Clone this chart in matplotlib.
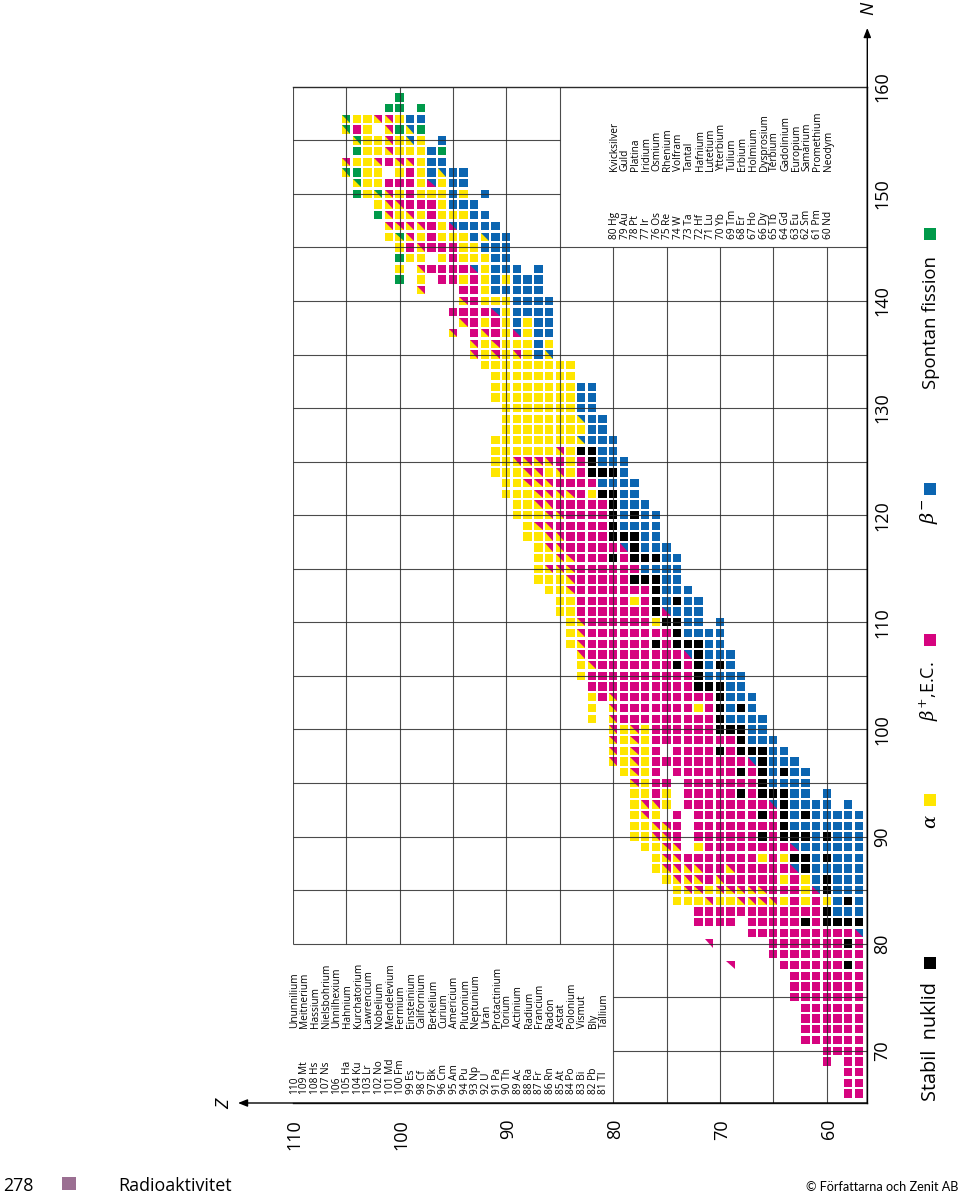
import matplotlib
matplotlib.use("Agg")
import matplotlib.pyplot as plt
from matplotlib.patches import Rectangle, Polygon
from matplotlib.transforms import ScaledTranslation

plt.rcParams['font.family'] = ['Open Sans', 'DejaVu Sans']

# ---------- data ----------
N_values = list(range(66, 160))
first_Z = [57, 57, 57, 57, 57, 57, 57, 57, 57, 57, 57, 57, 57, 57, 57, 57, 57, 57, 57, 57, 57, 57, 57, 57,
           57, 57, 57, 57, 60, 62, 62, 63, 64, 65, 66, 66, 67, 67, 68, 68, 69, 69, 70, 70, 70, 72, 72, 73,
           74, 74, 74, 75, 76, 76, 76, 77, 78, 78, 79, 79, 80, 80, 81, 81, 82, 82, 82, 84, 84, 86, 86, 86,
           86, 86, 86, 87, 87, 87, 90, 90, 90, 91, 92, 93, 92, 94, 94, 96, 96, 96, 98, 98, 98, 100]
# codes: m b+/EC, y alpha, b b-, k stable, g fission, . none
# Y alpha/b+, B b+/b-, V alpha/b-, G alpha/fission, t b+ corner only
decay_rows = [
    "mm", "mm", "mm", "mm.m", "mmmm", "mmmmmm", "mmmmmm", "mmmmmm", "mmmmmm",
    "mmmmmmm", "mmmmmmm", "mmmmmmm", "mkmmmmmm....t", "mmmmmmmmm", "mkmmmmmmm.....t",
    "Bmmmmmmmmmm", "kkkkmkmmmmm.mmmm", "bbbkmmmmmmmmmmmm", "bkbymymyYYYYyyYyyy",
    "bbbkBymmmYYYYYyYYy", "bbbkbymymmmmmYmYYYy", "bbbbbkBmmmmmYmmYYYYy", "bbbkbkkymymmmmmmmYYy",
    "bbbbbbBmmmmmmmmy.YYyy", "bbbkbkkkmkmmmmmm.mYYyy", "bbbbbbbkmmmmmmmm.mYYyy",
    "bbbbbkbkmkmmmmmm.m.yYy", ".b.bbbbkBmmmmmmmm.yYYy", "b.bbkkkmkmmmmm.ymyy",
    "bbbbkmmmmmmm.mmyY", "bbkbkmkmmmmmm.myYy", "bbbkBmmmmmmmmmyYyY", "bbkkkmkmmmm.myYyY",
    "bbbkmmmmmmmmyYyY", "bbkkkmmmmmmyYyY", "bbbbkmmmmmmmmmY.y", "bkbkmymmmmmmmY.y",
    "bbbkmmmmmmmmmYmy", "bbkkkmmmmmmmmmm", "bbbbkmmmmmmmmmmy", "bkbkmkmmmmmmmYy",
    "bbbkBmmmmmmmmmY", "bbkkkmkmmmmmmYy", "bbbbkmmmmmmmmYy", "b.bbkkymmmmmmYy",
    "bbbBkmmmmmmmyy", "bbkbkmymmmmmyy", "bbbkmmmmmmmYyy", "bbkkkmmmmmYyyy",
    "bbbbmmmmmmYYYy", "bbkkkmkmmmYYyy", "bbbkBmmmmmYYy", "bbkkkmmmmYYyy",
    "bbbbkmmmmmYYy", "bbkbkmmmmYYyyy", "bbbkmmmmmYYyy", "bbkkymYYYYyyy",
    "bbbbmmmmYYYyy", "bkkkmyYyYYyyy", "bbbkmymYYYYyy", "bbkkyYyyyyyy", "bbbVyyyyyyyy",
    "bbyyyyyyyy", "bbVyyyyyyy", "bbyyyyyyy", "bbyyyyyyyy", "bbyyyyyyyy", "yyyyyyyy",
    "yyyyyyyyy", "VbyYyYyY", "ybyyyYyY", "bbyBymYm.Y", "bbybymymY", "bbbbyBmmmm",
    "bbbbyyymY", "bbbbbymm...Y", "bbbybymymm.y.g", "b.bbbyBmmmmY.y", "bbyyymy.yyg",
    "bbbyymmmYmy", "bbVbyyymyYGy", "bbbbBymYYYY", "bbyyymyYyYg", "bbbymmmYYy",
    "b.ybyyymyYGyg", "bbyBymmmyyG", "bbVbymy.yygG", "bbyYYmYyyY", "gbyyyYyyg",
    "b.yVyYyyG", "gVgY.ymG", "bbyYYyyG", "g.gg", "g",
]
Z_ticks = [110, 100, 90, 80, 70, 60]
N_ticks = [70, 80, 90, 100, 110, 120, 130, 140, 150, 160]

upper_Z = list(range(110, 80, -1))
upper_symbols = ["110", "109 Mt", "108 Hs", "107 Ns", "106", "105 Ha", "104 Ku", "103 Lr", "102 No",
                 "101 Md", "100 Fm", "99 Es", "98 Cf", "97 Bk", "96 Cm", "95 Am", "94 Pu", "93 Np",
                 "92 U", "91 Pa", "90 Th", "89 Ac", "88 Ra", "87 Fr", "86 Rn", "85 At", "84 Po",
                 "83 Bi", "82 Pb", "81 Tl"]
upper_names = ["Ununnilium", "Meitnerium", "Hassium", "Nielsbohrium", "Unnilhexium", "Hahnium",
               "Kurchatorium", "Lawrencium", "Nobelium", "Mendelevium", "Fermium", "Einsteinium",
               "Californium", "Berkelium", "Curium", "Americium", "Plutonium", "Neptunium", "Uran",
               "Protactinium", "Torium", "Actinium", "Radium", "Francium", "Radon", "Astat",
               "Polonium", "Vismut", "Bly", "Tallium"]
lower_Z = list(range(80, 59, -1))
lower_symbols = ["80 Hg", "79 Au", "78 Pt", "77 Ir", "76 Os", "75 Re", "74 W", "73 Ta", "72 Hf", "71 Lu",
                 "70 Yb", "69 Tm", "68 Er", "67 Ho", "66 Dy", "65 Tb", "64 Gd", "63 Eu", "62 Sm",
                 "61 Pm", "60 Nd"]
lower_names = ["Kvicksilver", "Guld", "Platina", "Iridium", "Osmium", "Rhenium", "Volfram", "Tantal",
               "Hafnium", "Lutetium", "Ytterbium", "Tulium", "Erbium", "Holmium", "Dysprosium",
               "Terbium", "Gadolinium", "Europium", "Samarium", "Promethium", "Neodym"]

# ---------- style ----------
W, H = 960, 1195
MAGENTA, YELLOW, BLUE, BLACK, GREEN = '#d6047f', '#ffe600', '#0b65b1', '#000000', '#009a4a'
full = {'m': MAGENTA, 'y': YELLOW, 'b': BLUE, 'k': BLACK, 'g': GREEN}
split = {'Y': (YELLOW, MAGENTA), 'B': (MAGENTA, BLUE), 'V': (YELLOW, BLUE), 'G': (YELLOW, GREEN),
         't': (None, MAGENTA)}
S = 0.78
LINE = '#2b2b2b'

Z0_px, Z_scale = 826.7, 10.68
N0_py, N_scale = 1050.7, 10.71
left_px, right_px, top_py, bottom_py = 292.7, 867.3, 86.6, 1103.0
Z_of = lambda px: 60 + (Z0_px - px) / Z_scale
N_of = lambda py: 70 + (N0_py - py) / N_scale

fig = plt.figure(figsize=(W / 100, H / 100), dpi=100)
ax = fig.add_axes([left_px / W, 1 - bottom_py / H, (right_px - left_px) / W, (bottom_py - top_py) / H])
ax.set_xlim(Z_of(left_px), Z_of(right_px))
ax.set_ylim(N_of(bottom_py), N_of(top_py))

# cells
for n, z0, row in zip(N_values, first_Z, decay_rows):
    for i, code in enumerate(row):
        z = z0 + i
        if code == '.':
            continue
        if code in full:
            ax.add_patch(Rectangle((z - S / 2, n - S / 2), S, S, fc=full[code], ec='none', zorder=2))
        else:
            lower, upper = split[code]
            if lower:
                ax.add_patch(Rectangle((z - S / 2, n - S / 2), S, S, fc=lower, ec='none', zorder=2))
            ax.add_patch(Polygon([(z + S / 2, n + S / 2), (z - S / 2, n + S / 2), (z - S / 2, n - S / 2)],
                                 closed=True, fc=upper, ec='none', zorder=2.1))

# grid
grid = dict(colors=LINE, linewidth=0.8, alpha=0.85, zorder=3)
ax.vlines([60, 65, 70, 75, 80], N_of(bottom_py), 145, **grid)
ax.vlines([85, 90, 95, 100, 105, 110], 80, 160, **grid)
ax.hlines(list(range(80, 146, 5)), 110, Z_of(right_px), **grid)
ax.hlines([150, 155], 110, 85, **grid)
ax.hlines([70, 75], 80, Z_of(right_px), **grid)

# frame and axes
ax.spines['left'].set_visible(False)
for side in ('top', 'right', 'bottom'):
    ax.spines[side].set_color(LINE)
    ax.spines[side].set_linewidth(1.0)

ax.set_xticks(Z_ticks)
ax.set_xticklabels([str(v) for v in Z_ticks])
ax.yaxis.tick_right()
ax.set_yticks(N_ticks)
ax.set_yticklabels([str(v) for v in N_ticks])
ax.tick_params(axis='x', length=0, pad=11.5, labelsize=13, labelrotation=90)
ax.tick_params(axis='y', length=0, pad=4.5, labelsize=13, labelrotation=90)
for lab in ax.get_yticklabels():
    lab.set_verticalalignment('center')
for lab in ax.get_xticklabels():
    lab.set_transform(lab.get_transform() + ScaledTranslation(1.5 / 72, 0, fig.dpi_scale_trans))

arrow = dict(arrowstyle='-|>,head_length=0.55,head_width=0.22', color='black', lw=1.0, shrinkA=0, shrinkB=0)
ax.annotate('', xy=(Z_of(238), N_of(bottom_py)), xytext=(Z_of(right_px), N_of(bottom_py)),
            arrowprops=arrow, annotation_clip=False)
ax.annotate('', xy=(Z_of(right_px), N_of(28)), xytext=(Z_of(right_px), N_of(bottom_py)),
            arrowprops=arrow, annotation_clip=False)
ax.text(Z_of(224), N_of(1104), 'Z', rotation=90, ha='center', va='center', fontsize=13.5, style='italic',
        clip_on=False)
ax.text(Z_of(868), N_of(8), 'N', rotation=90, ha='center', va='center', fontsize=13.5, style='italic',
        clip_on=False)

# element lists
txt = dict(rotation=90, ha='center', va='bottom', fontsize=7.3, color='black', clip_on=False)
shift = 0.14
for z, s, name in zip(upper_Z, upper_symbols, upper_names):
    ax.text(z - shift, N_of(1094), s, **txt)
    ax.text(z - shift, N_of(1028), name, **txt)
for z, s, name in zip(lower_Z, lower_symbols, lower_names):
    ax.text(z - shift, N_of(239), s, **txt)
    ax.text(z - shift, N_of(171), name, **txt)

# legend (rotated, in page pixels)
def page(x, y):
    return x / W, 1 - y / H

legend_cells = [(234, GREEN), (489, BLUE), (640, MAGENTA), (800, YELLOW), (963, BLACK)]
for y, colour in legend_cells:
    fx, fy = page(923.5, y + 6.2)
    fig.patches.append(Rectangle((fx, fy), 12.5 / W, 12.5 / H, fc=colour, ec='none',
                                 transform=fig.transFigure))

def label(x, y, s, **kw):
    fx, fy = page(x, y)
    fig.text(fx, fy, s, rotation=90, ha='center', va='bottom', **kw)

label(931, 389, 'Spontan fission', fontsize=13.3)
label(931, 1101, 'Stabil  nuklid', fontsize=14.3)
label(929, 524, r'$\beta^{-}$', fontsize=14, math_fontfamily='dejavuserif')
label(929, 721, r'$\beta^{+}$,E.C.', fontsize=13, math_fontfamily='dejavuserif')
label(931, 829, r'$\alpha$', fontsize=14, math_fontfamily='dejavuserif')

# page furniture
fig.text(3 / W, 1 - 1191 / H, '278', fontsize=12.8, va='baseline', ha='left')
fx, fy = page(62, 1190)
fig.patches.append(Rectangle((fx, fy), 13.5 / W, 13.5 / H, fc='#9b6f92', ec='none', transform=fig.transFigure))
fig.text(118 / W, 1 - 1191 / H, 'Radioaktivitet', fontsize=12.9, va='baseline', ha='left')
fig.text(958 / W, 1 - 1191 / H, '© Författarna och Zenit AB', fontsize=9.1, va='baseline', ha='right',
         family=['Lato', 'DejaVu Sans'])

fig.savefig('out.png', dpi=100)
